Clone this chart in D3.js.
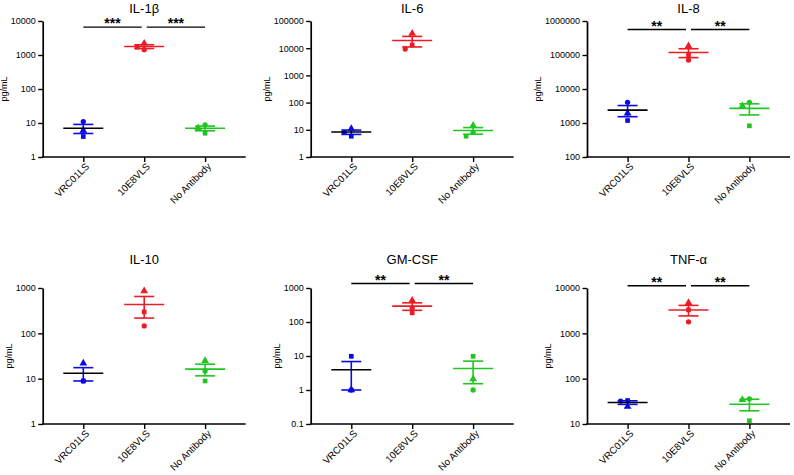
<!DOCTYPE html>
<html>
<head>
<meta charset="utf-8">
<script src="https://cdn.jsdelivr.net/npm/d3@7"></script>
<style>
  body { margin: 0; background: #fff; }
  svg { display: block; font-family: Arial, "Liberation Sans", Helvetica, sans-serif; }
</style>
</head>
<body>
<script>
// ---------- data ----------
const cytokines = ["IL-1β", "IL-6", "IL-8", "IL-10", "GM-CSF", "TNF-α"];
const groups = ["VRC01LS", "10E8VLS", "No Antibody"];
// each group: [circle, square, triangle] donor values (pg/mL)
const il1b  = [[11, 4.0, 6.0], [1430, 1700, 2200], [8.8, 5.0, 7.2]];
const il6   = [[8.0, 5.8, 11], [9340, 13070, 35000], [8.1, 5.8, 14.5]];
const il8   = [[4070, 1183, 1940], [70700, 98900, 185000], [4070, 826, 3180]];
const il10  = [[8.9, 8.9, 21.8], [146, 297, 858], [14.8, 8.9, 24.9]];
const gmcsf = [[1.0, 9.8, 1.0], [262, 186, 432], [1.0, 9.8, 2.1]];
const tnfa  = [[32, 33, 24.4], [1790, 3300, 4750], [36, 11.8, 34.2]];
const values = [il1b, il6, il8, il10, gmcsf, tnfa];

const yDomains = [[1, 1e4], [1, 1e5], [100, 1e6], [1, 1000], [0.1, 1000], [10, 1e4]];
const yTicks = [
  [1, 10, 100, 1000, 10000],
  [1, 10, 100, 1000, 10000, 100000],
  [100, 1000, 10000, 100000, 1000000],
  [1, 10, 100, 1000],
  [0.1, 1, 10, 100, 1000],
  [10, 100, 1000, 10000]
];
const sigLabels = ["***", "", "**", "", "**", "**"];
const sigLevel = [6600, null, 560000, null, 1350, 11200];

const groupColors = ["#0a0ae6", "#ec1c24", "#21c521"];
const meanColors = ["#000000", "#ec1c24", "#21c521"];
const shapes = [d3.symbolCircle, d3.symbolSquare, d3.symbolTriangle];

// ---------- layout ----------
const W = 794, H = 475;
const colX = [42.7, 310.7, 587];
const rowY = [21, 288];
const pw = 203, ph = 136;
const titleY = [13, 264];

const svg = d3.select("body").append("svg").attr("width", W).attr("height", H);

const fmt = v => v < 1 ? String(v) : d3.format("d")(v);

cytokines.forEach((name, i) => {
  const col = i % 3, row = Math.floor(i / 3);
  const g = svg.append("g").attr("transform", `translate(${colX[col]},${rowY[row]})`);

  const x = d3.scalePoint().domain(groups).range([0.2 * pw, 0.8 * pw]);
  const y = d3.scaleLog().domain(yDomains[i]).range([ph, 0]);

  // y axis
  const yAxisG = g.append("g").call(
    d3.axisLeft(y).tickValues(yTicks[i]).tickFormat(fmt).tickSize(4.5).tickPadding(2.5).tickSizeOuter(0)
  );
  yAxisG.select(".domain").attr("stroke-width", 1.7);
  yAxisG.selectAll(".tick line").attr("stroke-width", 1.4);
  yAxisG.selectAll(".tick text").attr("font-size", 9).attr("font-family", "Arial, Liberation Sans, sans-serif").attr("fill", "#000");

  let maxW = 0;
  yAxisG.selectAll(".tick text").each(function () { maxW = Math.max(maxW, this.getBBox().width); });

  // x axis
  const xAxisG = g.append("g").attr("transform", `translate(0,${ph})`).call(
    d3.axisBottom(x).tickSize(5).tickSizeOuter(0)
  );
  xAxisG.select(".domain").remove();
  xAxisG.selectAll(".tick line").attr("stroke-width", 1.4);
  xAxisG.selectAll(".tick text")
    .attr("font-size", 9.8)
    .attr("font-family", "Arial, Liberation Sans, sans-serif")
    .attr("fill", "#000")
    .attr("text-anchor", "end")
    .attr("y", 0).attr("dy", 0)
    .attr("transform", "translate(6,10) rotate(-45)");
  g.append("line").attr("x1", -0.8).attr("x2", pw).attr("y1", ph).attr("y2", ph)
    .attr("stroke", "#000").attr("stroke-width", 1.7);

  // y label
  g.append("text")
    .attr("transform", `translate(${-(maxW + 10.5)},${ph / 2}) rotate(-90)`)
    .attr("text-anchor", "middle")
    .attr("font-size", 9)
    .text("pg/mL");

  // title
  svg.append("text")
    .attr("x", colX[col] + pw / 2)
    .attr("y", titleY[row])
    .attr("text-anchor", "middle")
    .attr("font-size", 13)
    .text(name);

  // points (partially overlapping points are spread sideways; identical values stack)
  values[i].forEach((vals, gi) => {
    const cx = x(groups[gi]);
    const placed = [];
    const order = vals.map((v, k) => ({ v, k })).sort((a, b) => b.v - a.v);
    order.forEach(({ v, k }) => {
      const py = y(v);
      const same = placed.find(p => p.v === v);
      let off = 0;
      if (same) {
        off = same.x;
      } else {
        const cands = [0, -7, 7, -14, 14];
        for (const c of cands) {
          if (!placed.some(p => Math.abs(p.y - py) < 4.5 && Math.abs(p.x - c) < 6)) { off = c; break; }
        }
      }
      placed.push({ x: off, y: py, v });
      g.append("path")
        .attr("d", d3.symbol().type(shapes[k]).size(k === 2 ? 26 : 22)())
        .attr("transform", `translate(${cx + off},${py})`)
        .attr("fill", groupColors[gi]);
    });

    // mean and SEM
    const mean = d3.mean(vals);
    const sem = d3.deviation(vals) / Math.sqrt(vals.length);
    const hi = mean + sem, lo = Math.max(mean - sem, yDomains[i][0]);
    const eb = g.append("g").attr("stroke", groupColors[gi]).attr("stroke-width", 1.6);
    eb.append("line").attr("x1", cx).attr("x2", cx).attr("y1", y(hi)).attr("y2", y(lo));
    eb.append("line").attr("x1", cx - 10).attr("x2", cx + 10).attr("y1", y(hi)).attr("y2", y(hi));
    eb.append("line").attr("x1", cx - 10).attr("x2", cx + 10).attr("y1", y(lo)).attr("y2", y(lo));
    g.append("line").attr("x1", cx - 20).attr("x2", cx + 20).attr("y1", y(mean)).attr("y2", y(mean))
      .attr("stroke", meanColors[gi]).attr("stroke-width", 1.6);
  });

  // significance bars
  if (sigLevel[i] !== null) {
    const by = y(sigLevel[i]);
    const x0 = x(groups[0]), x1 = x(groups[1]), x2 = x(groups[2]);
    const pairs = [[x0, x1 - 2.5], [x1 + 2.5, x2]];
    pairs.forEach(([a, b]) => {
      g.append("line").attr("x1", a).attr("x2", b).attr("y1", by).attr("y2", by)
        .attr("stroke", "#000").attr("stroke-width", 1.4);
      g.append("text").attr("x", (a + b) / 2).attr("y", by + 1)
        .attr("text-anchor", "middle").attr("font-size", 14).attr("font-weight", "bold")
        .text(sigLabels[i]);
    });
  }
});
</script>
</body>
</html>
